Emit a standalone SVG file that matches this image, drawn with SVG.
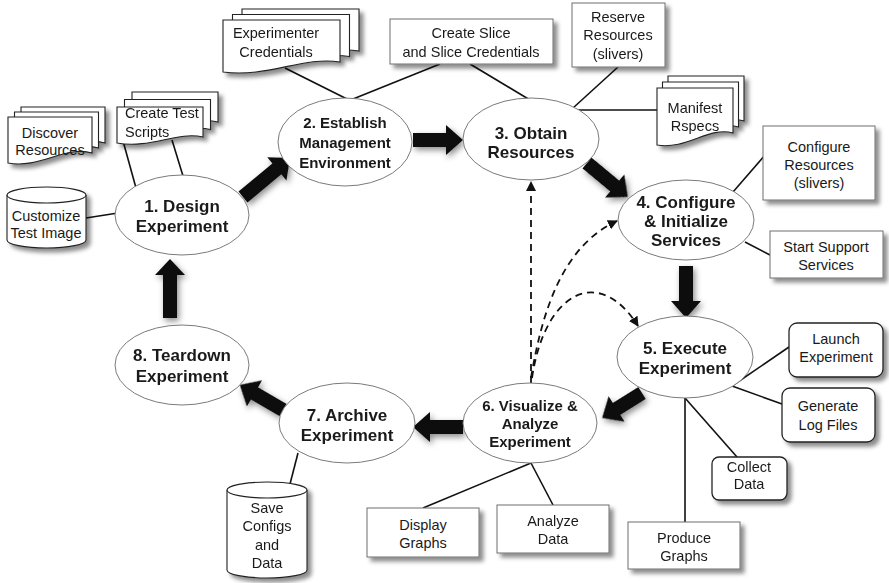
<svg xmlns="http://www.w3.org/2000/svg" width="889" height="583" viewBox="0 0 889 583">
  <defs>
    <style>
      text { font-family: "Liberation Sans", Arial, sans-serif; fill: #1a1a1a; }
      .step { fill: #fff; stroke: #7a7a7a; stroke-width: 1; }
      .big { font-size: 17px; font-weight: bold; text-anchor: middle; }
      .mid { font-size: 15px; font-weight: bold; text-anchor: middle; }
      .lbl { font-size: 14.5px; text-anchor: middle; }
      .lbl-l { font-size: 14.5px; text-anchor: start; }
      .box { fill: #fff; stroke: #6e6e6e; stroke-width: 1; }
      .rbox { fill: #fff; stroke: #222; stroke-width: 1.3; }
      .doc { fill: #fff; stroke: #222; stroke-width: 1.1; }
      .link { stroke: #111; stroke-width: 1.6; fill: none; }
      .dash { stroke: #111; stroke-width: 1.8; fill: none; stroke-dasharray: 7 5; }
      .flow { fill: #111; }
    </style>
    <filter id="shadow" x="-20%" y="-20%" width="150%" height="160%">
      <feDropShadow dx="4" dy="4" stdDeviation="2.2" flood-color="#000" flood-opacity="0.45"/>
    </filter>
    <filter id="glow" x="-40%" y="-40%" width="180%" height="180%">
      <feDropShadow dx="2" dy="3" stdDeviation="3" flood-color="#000" flood-opacity="0.45"/>
    </filter>
    <marker id="tip" viewBox="0 0 10 10" refX="9" refY="5" markerWidth="10" markerHeight="10" markerUnits="userSpaceOnUse" orient="auto">
      <path d="M0,0 L10,5 L0,10 Z" fill="#111"/>
    </marker>
  </defs>

  <rect width="889" height="583" fill="#fff"/>

  <!-- thin connectors between steps and their tasks -->
  <g id="connectors">
    <line class="link" x1="120" y1="130" x2="136" y2="188"/>
    <line class="link" x1="172" y1="140" x2="183" y2="176"/>
    <line class="link" x1="86" y1="218" x2="118" y2="213"/>
    <line class="link" x1="285" y1="68" x2="347" y2="99"/>
    <line class="link" x1="440" y1="64" x2="353" y2="99"/>
    <line class="link" x1="470" y1="64" x2="530" y2="100"/>
    <line class="link" x1="618" y1="67" x2="573" y2="108"/>
    <line class="link" x1="573" y1="110" x2="660" y2="110"/>
    <line class="link" x1="733" y1="192" x2="765" y2="155"/>
    <line class="link" x1="745" y1="242" x2="770" y2="255"/>
    <line class="link" x1="732" y1="386" x2="789" y2="347"/>
    <line class="link" x1="732" y1="386" x2="782" y2="404"/>
    <line class="link" x1="685" y1="398" x2="737" y2="457"/>
    <line class="link" x1="685" y1="398" x2="685" y2="522"/>
    <line class="link" x1="531" y1="463" x2="423" y2="508"/>
    <line class="link" x1="531" y1="463" x2="553" y2="505"/>
    <line class="link" x1="298" y1="453" x2="290" y2="484"/>

    <!-- feedback paths from step 6 -->
    <path class="dash" d="M531,383 L531,182" marker-end="url(#tip)"/>
    <path class="dash" d="M531,378 C543,305 565,245 617,221" marker-end="url(#tip)"/>
    <path class="dash" d="M532,378 C545,290 600,265 638,326" marker-end="url(#tip)"/>

    <!-- main cycle arrows -->
    <g class="flow" filter="url(#glow)">
      <path transform="translate(243,197) rotate(-39.7)" d="M0,-7 H44 V-15 L61,0 L44,15 V7 H0 Z"/>
      <path transform="translate(413,140)" d="M0,-7 H33 V-15 L50,0 L33,15 V7 H0 Z"/>
      <path transform="translate(587,163) rotate(39.7)" d="M0,-7 H36 V-15 L53,0 L36,15 V7 H0 Z"/>
      <path transform="translate(686,266) rotate(90)" d="M0,-7 H35 V-15 L52,0 L35,15 V7 H0 Z"/>
      <path transform="translate(642,393) rotate(148)" d="M0,-7 H30 V-15 L47,0 L30,15 V7 H0 Z"/>
      <path transform="translate(463,427) rotate(180)" d="M0,-7 H33 V-15 L50,0 L33,15 V7 H0 Z"/>
      <path transform="translate(283,410) rotate(210.2)" d="M0,-7 H33 V-15 L50,0 L33,15 V7 H0 Z"/>
      <path transform="translate(170,318) rotate(-90)" d="M0,-7 H43 V-15 L59,0 L43,15 V7 H0 Z"/>
    </g>
  </g>

  <!-- task nodes -->
  <g id="discover-resources" filter="url(#shadow)">
    <path class="doc" transform="translate(21,107)" d="M0,0 H84 V36 C58,28 32,52 0,46 Z"/>
    <path class="doc" transform="translate(14.5,112)" d="M0,0 H84 V36 C58,28 32,52 0,46 Z"/>
    <path class="doc" transform="translate(8,117)" d="M0,0 H84 V36 C58,28 32,52 0,46 Z"/>
  </g>
  <g id="discover-resources-text">
    <text class="lbl" x="50" y="138">Discover</text>
    <text class="lbl" x="50" y="155">Resources</text>
  </g>

  <g id="create-test-scripts" filter="url(#shadow)">
    <path class="doc" transform="translate(132,92)" d="M0,0 H86 V30 C60,24 34,42 0,36 Z"/>
    <path class="doc" transform="translate(124.5,99.5)" d="M0,0 H86 V30 C60,24 34,42 0,36 Z"/>
    <path class="doc" transform="translate(117,107)" d="M0,0 H86 V30 C60,24 34,42 0,36 Z"/>
  </g>
  <g id="create-test-scripts-text">
    <text class="lbl-l" x="125" y="118">Create Test</text>
    <text class="lbl-l" x="125" y="137">Scripts</text>
  </g>

  <g id="customize-test-image">
    <path class="doc" filter="url(#shadow)" d="M7,195 A39.5,8 0 0 1 86,195 V240 A39.5,8 0 0 1 7,240 Z"/>
    <path class="doc" d="M7,195 A39.5,8 0 0 0 86,195"/>
    <text class="lbl" x="46" y="221">Customize</text>
    <text class="lbl" x="46" y="238">Test Image</text>
  </g>

  <g id="experimenter-credentials">
    <g filter="url(#shadow)">
      <path class="doc" transform="translate(242,9)" d="M0,0 H117 V42 C80,36 45,58 0,52 Z"/>
      <path class="doc" transform="translate(232.5,14.5)" d="M0,0 H117 V42 C80,36 45,58 0,52 Z"/>
      <path class="doc" transform="translate(223,20)" d="M0,0 H117 V42 C80,36 45,58 0,52 Z"/>
    </g>
    <text class="lbl" x="276" y="38">Experimenter</text>
    <text class="lbl" x="276" y="57">Credentials</text>
  </g>

  <g id="create-slice">
    <rect class="box" x="390" y="19" width="163" height="45" filter="url(#shadow)"/>
    <text class="lbl" x="471" y="38">Create Slice</text>
    <text class="lbl" x="471" y="57">and Slice Credentials</text>
  </g>

  <g id="reserve-resources">
    <rect class="box" x="572" y="3" width="93" height="64" filter="url(#shadow)"/>
    <text class="lbl" x="618" y="22">Reserve</text>
    <text class="lbl" x="618" y="40">Resources</text>
    <text class="lbl" x="618" y="59">(slivers)</text>
  </g>

  <g id="manifest-rspecs">
    <g filter="url(#shadow)">
      <path class="doc" transform="translate(668,76)" d="M0,0 H76 V45 C52,38 30,62 0,57 Z"/>
      <path class="doc" transform="translate(662.5,82)" d="M0,0 H76 V45 C52,38 30,62 0,57 Z"/>
      <path class="doc" transform="translate(657,88)" d="M0,0 H76 V45 C52,38 30,62 0,57 Z"/>
    </g>
    <text class="lbl" x="695" y="113">Manifest</text>
    <text class="lbl" x="695" y="131">Rspecs</text>
  </g>

  <g id="configure-resources">
    <rect class="box" x="763" y="126" width="112" height="74" filter="url(#shadow)"/>
    <text class="lbl" x="819" y="152">Configure</text>
    <text class="lbl" x="819" y="170">Resources</text>
    <text class="lbl" x="819" y="188">(slivers)</text>
  </g>

  <g id="start-support-services">
    <rect class="box" x="770" y="231" width="113" height="47" filter="url(#shadow)"/>
    <text class="lbl" x="826" y="252">Start Support</text>
    <text class="lbl" x="826" y="270">Services</text>
  </g>

  <g id="launch-experiment">
    <rect class="rbox" x="789" y="323" width="94" height="54" rx="8" filter="url(#shadow)"/>
    <text class="lbl" x="836" y="344">Launch</text>
    <text class="lbl" x="836" y="362">Experiment</text>
  </g>

  <g id="generate-log-files">
    <rect class="rbox" x="782" y="388" width="93" height="54" rx="8" filter="url(#shadow)"/>
    <text class="lbl" x="828" y="411">Generate</text>
    <text class="lbl" x="828" y="430">Log Files</text>
  </g>

  <g id="collect-data">
    <rect class="rbox" x="712" y="457" width="75" height="43" rx="7" filter="url(#shadow)"/>
    <text class="lbl" x="749" y="472">Collect</text>
    <text class="lbl" x="749" y="489">Data</text>
  </g>

  <g id="produce-graphs">
    <rect class="box" x="628" y="522" width="112" height="47" filter="url(#shadow)"/>
    <text class="lbl" x="684" y="543">Produce</text>
    <text class="lbl" x="684" y="561">Graphs</text>
  </g>

  <g id="display-graphs">
    <rect class="box" x="367" y="508" width="112" height="49" filter="url(#shadow)"/>
    <text class="lbl" x="423" y="530">Display</text>
    <text class="lbl" x="423" y="548">Graphs</text>
  </g>

  <g id="analyze-data">
    <rect class="box" x="497" y="505" width="112" height="48" filter="url(#shadow)"/>
    <text class="lbl" x="553" y="526">Analyze</text>
    <text class="lbl" x="553" y="544">Data</text>
  </g>

  <g id="save-configs">
    <path class="doc" filter="url(#shadow)" d="M227,490 A40,8 0 0 1 307,490 V570 A40,8 0 0 1 227,570 Z"/>
    <path class="doc" d="M227,490 A40,8 0 0 0 307,490"/>
    <text class="lbl" x="267" y="513">Save</text>
    <text class="lbl" x="267" y="531">Configs</text>
    <text class="lbl" x="267" y="550">and</text>
    <text class="lbl" x="267" y="568">Data</text>
  </g>

  <!-- lifecycle steps -->
  <g id="step-1">
    <ellipse class="step" cx="182" cy="215" rx="67" ry="40"/>
    <text class="big" x="182" y="212">1. Design</text>
    <text class="big" x="182" y="232">Experiment</text>
  </g>
  <g id="step-2">
    <ellipse class="step" cx="345" cy="142" rx="67" ry="44"/>
    <text class="mid" x="345" y="128">2. Establish</text>
    <text class="mid" x="345" y="148">Management</text>
    <text class="mid" x="345" y="168">Environment</text>
  </g>
  <g id="step-3">
    <ellipse class="step" cx="531" cy="139" rx="68" ry="41"/>
    <text class="big" x="531" y="139">3. Obtain</text>
    <text class="big" x="531" y="158">Resources</text>
  </g>
  <g id="step-4">
    <ellipse class="step" cx="686" cy="220" rx="68" ry="40"/>
    <text class="big" x="686" y="208">4. Configure</text>
    <text class="big" x="686" y="227">&amp; Initialize</text>
    <text class="big" x="686" y="246">Services</text>
  </g>
  <g id="step-5">
    <ellipse class="step" cx="685" cy="357" rx="68" ry="41"/>
    <text class="big" x="685" y="354">5. Execute</text>
    <text class="big" x="685" y="374">Experiment</text>
  </g>
  <g id="step-6">
    <ellipse class="step" cx="530" cy="423" rx="67" ry="40"/>
    <text class="mid" x="530" y="411">6. Visualize &amp;</text>
    <text class="mid" x="530" y="429">Analyze</text>
    <text class="mid" x="530" y="447">Experiment</text>
  </g>
  <g id="step-7">
    <ellipse class="step" cx="347" cy="423" rx="68" ry="40"/>
    <text class="big" x="347" y="421">7. Archive</text>
    <text class="big" x="347" y="441">Experiment</text>
  </g>
  <g id="step-8">
    <ellipse class="step" cx="182" cy="365" rx="67" ry="40"/>
    <text class="big" x="182" y="361">8. Teardown</text>
    <text class="big" x="182" y="382">Experiment</text>
  </g>
</svg>
